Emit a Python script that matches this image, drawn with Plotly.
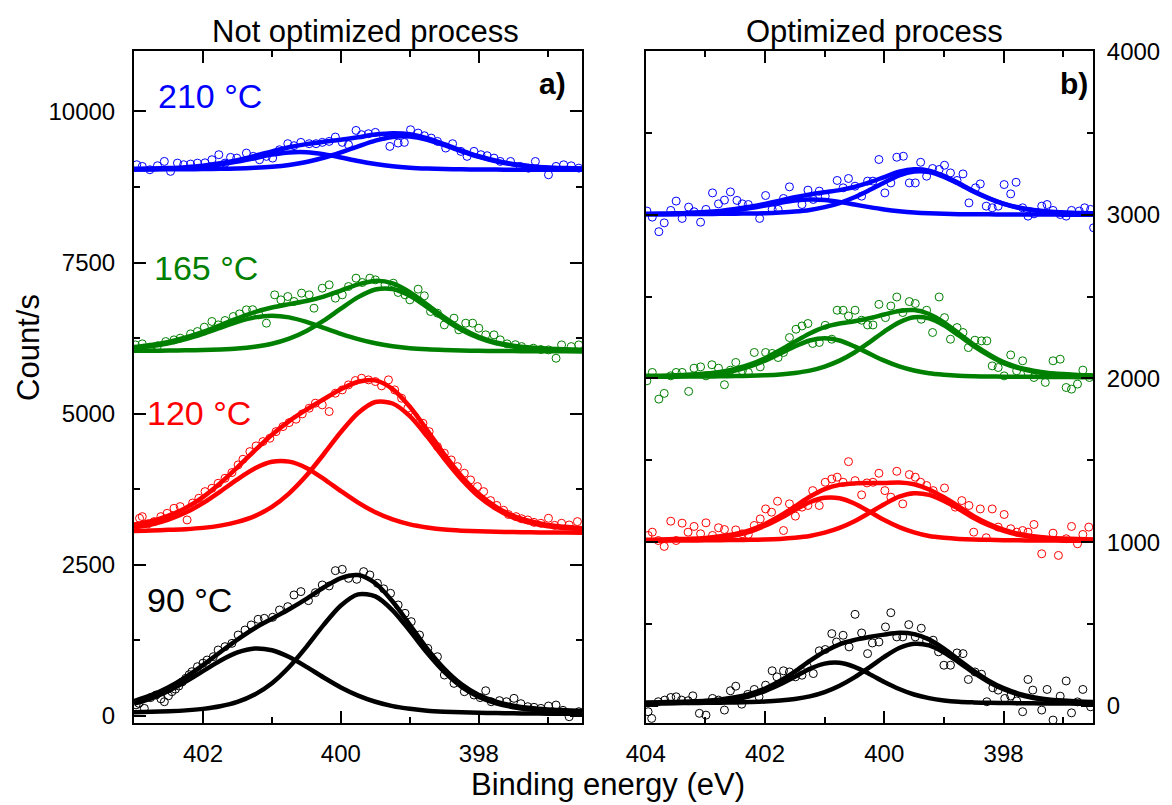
import plotly.graph_objects as go

# ---------------- fit grids (binding energy, eV) ----------------
E_FIT_LEFT = [403.0, 402.75, 402.5, 402.25, 402.0, 401.75, 401.5, 401.25, 401.0, 400.75, 400.5, 400.25, 400.0,
              399.75, 399.5, 399.25, 399.0, 398.75, 398.5, 398.25, 398.0, 397.75, 397.5, 397.25, 397.0, 396.75, 396.5]
E_FIT_RIGHT = [404.0, 403.75, 403.5, 403.25, 403.0, 402.75, 402.5, 402.25, 402.0, 401.75, 401.5, 401.25, 401.0,
               400.75, 400.5, 400.25, 400.0, 399.75, 399.5, 399.25, 399.0, 398.75, 398.5, 398.25, 398.0, 397.75,
               397.5, 397.25, 397.0, 396.75, 396.5]

# ---------------- panel a) Not optimized process: fit components ----------------
L90_BASE = 15
L90_C1 = [200, 289, 412, 565, 739, 910, 1047, 1113, 1083, 971, 809, 633, 469, 334, 232, 160, 115, 84, 67, 56, 48, 44, 40, 37, 35, 34, 32]
L90_C2 = [59, 66, 75, 89, 114, 156, 228, 350, 538, 806, 1140, 1504, 1825, 2009, 1975, 1745, 1404, 1041, 724, 478, 310, 206, 142, 105, 85, 73, 63]

L120_BASE = 3010
L120_C1 = [3114, 3163, 3244, 3362, 3519, 3710, 3913, 4092, 4202, 4205, 4101, 3921, 3718, 3526, 3367, 3248, 3166, 3116, 3081, 3063, 3052, 3045, 3040, 3036, 3033, 3031, 3029]
L120_C2 = [3059, 3065, 3076, 3088, 3109, 3146, 3208, 3304, 3457, 3681, 3974, 4327, 4695, 5010, 5192, 5167, 4957, 4623, 4253, 3911, 3628, 3423, 3278, 3192, 3135, 3106, 3085]

L165_BASE = 6020
L165_C1 = [6082, 6115, 6163, 6232, 6320, 6420, 6517, 6592, 6620, 6592, 6517, 6420, 6320, 6232, 6163, 6115, 6082, 6063, 6051, 6043, 6039, 6036, 6034, 6032, 6031, 6030, 6029]
L165_C2 = [6038, 6040, 6043, 6048, 6052, 6062, 6077, 6106, 6155, 6239, 6366, 6537, 6736, 6927, 7053, 7061, 6949, 6761, 6560, 6384, 6252, 6163, 6111, 6080, 6063, 6053, 6048]

L210_BASE = 9030
L210_C1 = [9041, 9045, 9052, 9064, 9086, 9122, 9169, 9227, 9285, 9322, 9326, 9294, 9239, 9180, 9130, 9092, 9068, 9054, 9046, 9042, 9039, 9038, 9036, 9036, 9035, 9034, 9034]
L210_C2 = [9039, 9041, 9042, 9044, 9046, 9050, 9056, 9067, 9085, 9115, 9163, 9233, 9322, 9422, 9517, 9578, 9585, 9532, 9442, 9341, 9249, 9175, 9123, 9089, 9068, 9058, 9051]

# ---------------- panel b) Optimized process: fit components ----------------
R90_BASE = 10
R90_C1 = [16, 16, 18, 20, 23, 30, 41, 60, 90, 130, 177, 226, 258, 263, 238, 195, 146, 103, 69, 47, 33, 25, 21, 18, 17, 16, 15, 14, 14, 13, 13]
R90_C2 = [15, 16, 16, 17, 18, 19, 21, 23, 26, 32, 42, 58, 84, 123, 174, 235, 299, 353, 379, 369, 326, 266, 203, 146, 101, 69, 48, 35, 28, 24, 21]

R120_BASE = 1005
R120_C1 = [1011, 1012, 1014, 1016, 1020, 1029, 1042, 1065, 1100, 1145, 1196, 1244, 1271, 1268, 1236, 1187, 1135, 1092, 1060, 1038, 1027, 1020, 1016, 1014, 1012, 1011, 1010, 1010, 1009, 1009, 1008]
R120_C2 = [1009, 1009, 1010, 1010, 1011, 1012, 1013, 1014, 1016, 1020, 1027, 1038, 1058, 1087, 1128, 1179, 1232, 1278, 1299, 1289, 1252, 1203, 1148, 1103, 1069, 1045, 1031, 1022, 1018, 1015, 1013]

R165_BASE = 2005
R165_C1 = [2011, 2012, 2014, 2017, 2023, 2032, 2049, 2074, 2109, 2152, 2196, 2232, 2246, 2232, 2196, 2152, 2109, 2074, 2049, 2032, 2023, 2017, 2014, 2012, 2011, 2010, 2010, 2009, 2009, 2008, 2008]
R165_C2 = [2010, 2010, 2011, 2012, 2012, 2013, 2015, 2017, 2020, 2025, 2034, 2048, 2073, 2109, 2159, 2221, 2287, 2343, 2374, 2367, 2325, 2263, 2198, 2142, 2094, 2063, 2043, 2030, 2023, 2019, 2016]

R210_BASE = 3000
R210_C1 = [3003, 3004, 3005, 3008, 3012, 3018, 3028, 3041, 3057, 3073, 3087, 3094, 3091, 3079, 3063, 3047, 3033, 3022, 3014, 3009, 3006, 3004, 3003, 3003, 3002, 3002, 3002, 3002, 3001, 3001, 3001]
R210_C2 = [3003, 3004, 3004, 3005, 3005, 3006, 3007, 3008, 3010, 3014, 3020, 3030, 3047, 3072, 3107, 3151, 3198, 3241, 3264, 3261, 3232, 3189, 3141, 3100, 3067, 3043, 3028, 3018, 3013, 3010, 3008]

# ---------------- measured points (panel a) ----------------
L90_E = [402.97, 402.93, 402.85, 402.76, 402.68, 402.61, 402.56, 402.50, 402.45, 402.40, 402.35, 402.30, 402.25, 402.20,
         402.16, 402.08, 402.00, 401.94, 401.85, 401.78, 401.68, 401.58, 401.49, 401.39, 401.30, 401.20, 401.11, 400.99,
         400.89, 400.77, 400.68, 400.58, 400.47, 400.37, 400.27, 400.17, 400.08, 399.98, 399.89, 399.77, 399.67, 399.58,
         399.47, 399.38, 399.28, 399.17, 399.07, 398.98, 398.86, 398.74, 398.60, 398.50, 398.36, 398.21, 398.07, 397.98,
         397.90, 397.82, 397.70, 397.60, 397.49, 397.39, 397.29, 397.20, 397.10, 396.99, 396.88, 396.78, 396.69, 396.55]
L90_V = [180, 205, 122, 300, 343, 280, 232, 330, 398, 440, 492, 560, 619, 680,
         729, 812, 870, 922, 977, 1088, 1143, 1198, 1336, 1419, 1502, 1596, 1612, 1629,
         1750, 1805, 1999, 2054, 1905, 2037, 2164, 2148, 2401, 2423, 2274, 2258, 2385, 2330,
         2192, 2100, 2026, 1833, 1695, 1557, 1336, 1115, 977, 674, 536, 398, 343, 300,
         414, 232, 250, 232, 288, 200, 150, 140, 122, 161, 177, 90, -16, 67]

L120_E = [402.92, 402.88, 402.80, 402.71, 402.61, 402.52, 402.42, 402.33, 402.23, 402.15, 402.06, 401.97, 401.87, 401.78,
          401.68, 401.58, 401.49, 401.42, 401.32, 401.23, 401.13, 401.03, 400.94, 400.84, 400.75, 400.65, 400.56, 400.46,
          400.37, 400.27, 400.17, 400.08, 399.98, 399.89, 399.79, 399.70, 399.60, 399.50, 399.41, 399.31, 399.22, 399.12,
          399.03, 398.93, 398.81, 398.72, 398.60, 398.50, 398.40, 398.31, 398.21, 398.12, 398.02, 397.93, 397.83, 397.74,
          397.64, 397.57, 397.46, 397.38, 397.29, 397.20, 397.10, 396.99, 396.90, 396.80, 396.69, 396.57]
L120_V = [3268, 3295, 3174, 3212, 3295, 3350, 3433, 3461, 3240, 3520, 3599, 3709, 3764, 3847,
          3930, 4024, 4151, 4244, 4371, 4465, 4537, 4592, 4702, 4785, 4851, 4907, 4995, 5089,
          5172, 5144, 5034, 5337, 5392, 5475, 5547, 5585, 5558, 5530, 5459, 5558, 5392, 5254,
          5089, 4951, 4840, 4702, 4454, 4344, 4233, 4123, 4013, 3902, 3792, 3709, 3560, 3480,
          3400, 3330, 3295, 3260, 3240, 3200, 3185, 3268, 3150, 3185, 3157, 3213]

L165_E = [402.98, 402.88, 402.77, 402.66, 402.54, 402.42, 402.33, 402.18, 402.08, 401.98, 401.87, 401.78, 401.68, 401.56,
          401.47, 401.37, 401.28, 401.19, 401.08, 400.96, 400.87, 400.77, 400.68, 400.57, 400.46, 400.39, 400.27, 400.17,
          400.08, 399.98, 399.89, 399.78, 399.69, 399.58, 399.50, 399.36, 399.24, 399.17, 399.07, 399.00, 398.88, 398.79,
          398.70, 398.60, 398.50, 398.36, 398.29, 398.19, 398.09, 398.00, 397.90, 397.78, 397.69, 397.59, 397.47, 397.38,
          397.21, 397.10, 396.99, 396.88, 396.80, 396.66, 396.55]
L165_V = [6137, 6154, 6100, 6121, 6192, 6220, 6248, 6319, 6358, 6430, 6524, 6468, 6540, 6606,
          6650, 6717, 6720, 6634, 6496, 6965, 6882, 6937, 6855, 6993, 6965, 6744, 7075, 7131,
          6910, 6965, 7103, 7241, 7169, 7241, 7213, 7131, 7158, 7004, 6965, 6882, 7059, 6949,
          6689, 6662, 6468, 6579, 6386, 6496, 6496, 6413, 6303, 6303, 6220, 6154, 6140, 6109,
          6082, 6060, 6054, 5916, 6137, 6109, 6137]

L210_E = [402.96, 402.88, 402.77, 402.66, 402.56, 402.47, 402.37, 402.28, 402.18, 402.08, 401.97, 401.87, 401.77, 401.68,
          401.60, 401.51, 401.37, 401.27, 401.18, 401.08, 400.99, 400.89, 400.77, 400.68, 400.58, 400.46, 400.36, 400.27,
          400.17, 400.08, 399.98, 399.89, 399.78, 399.70, 399.60, 399.50, 399.38, 399.29, 399.17, 399.08, 398.99, 398.88,
          398.79, 398.69, 398.60, 398.48, 398.38, 398.26, 398.17, 398.07, 397.97, 397.88, 397.78, 397.69, 397.54, 397.40,
          397.28, 397.18, 396.99, 396.88, 396.77, 396.66, 396.55]
L210_V = [9118, 9090, 9035, 9101, 9173, 9008, 9145, 9118, 9129, 9145, 9150, 9201, 9284, 9145,
          9240, 9228, 9311, 9256, 9201, 9256, 9228, 9366, 9466, 9433, 9488, 9466, 9466, 9488,
          9504, 9576, 9488, 9449, 9686, 9615, 9631, 9653, 9587, 9421, 9477, 9488, 9697, 9642,
          9598, 9559, 9504, 9394, 9466, 9339, 9256, 9339, 9284, 9267, 9228, 9173, 9172, 9090,
          9060, 9172, 8952, 9090, 9117, 9100, 9062]

# ---------------- measured points (panel b) ----------------
R90_E = [403.96, 403.90, 403.79, 403.68, 403.58, 403.49, 403.40, 403.29, 403.21, 403.10, 402.99, 402.88, 402.78, 402.68,
         402.58, 402.49, 402.39, 402.29, 402.18, 402.10, 401.99, 401.88, 401.80, 401.69, 401.59, 401.49, 401.38, 401.29,
         401.19, 401.09, 400.99, 400.88, 400.80, 400.69, 400.59, 400.49, 400.38, 400.28, 400.20, 400.09, 399.98, 399.89,
         399.79, 399.69, 399.59, 399.48, 399.38, 399.29, 399.18, 399.09, 399.00, 398.89, 398.78, 398.68, 398.59, 398.48,
         398.37, 398.28, 398.18, 398.09, 397.98, 397.88, 397.78, 397.68, 397.59, 397.51, 397.36, 397.27, 397.17, 397.05,
         396.95, 396.86, 396.76, 396.67, 396.54]
R90_V = [-36, -77, 25, 35, 51, 55, 35, 31, 61, -46, -57, 45, 35, -26,
         92, 120, 10, 70, 100, 55, 126, 214, 177, 214, 207, 177, 187, 240,
         197, 336, 344, 441, 390, 431, 360, 559, 445, 319, 384, 390, 482, 569,
         421, 421, 496, 421, 474, 397, 401, 330, 248, 248, 323, 319, 161, 207,
         193, 25, 110, 96, 45, 60, 30, -36, 161, 96, -26, 100, -87, 59,
         152, -43, 24, 100, -6]

R120_E = [403.96, 403.89, 403.79, 403.69, 403.58, 403.49, 403.39, 403.29, 403.19, 403.08, 402.99, 402.88, 402.78, 402.68,
          402.49, 402.38, 402.28, 402.18, 402.08, 401.99, 401.89, 401.79, 401.69, 401.59, 401.49, 401.38, 401.28, 401.20,
          401.09, 400.99, 400.88, 400.79, 400.69, 400.60, 400.49, 400.38, 400.29, 400.19, 400.09, 399.99, 399.89, 399.79,
          399.69, 399.58, 399.48, 399.39, 399.29, 399.18, 398.99, 398.81, 398.70, 398.58, 398.50, 398.39, 398.29, 398.19,
          398.09, 397.99, 397.88, 397.78, 397.68, 397.59, 397.49, 397.36, 397.17, 397.08, 396.95, 396.86, 396.76, 396.67,
          396.57]
R120_V = [1041, 1061, 1010, 974, 1128, 1010, 1116, 1061, 1096, 1051, 1118, 1041, 1088, 1077,
          1075, 1051, 1047, 1102, 1142, 1203, 1183, 1250, 1071, 1234, 1159, 1214, 1224, 1315,
          1224, 1366, 1386, 1397, 1366, 1492, 1376, 1289, 1362, 1366, 1421, 1315, 1275, 1433,
          1234, 1413, 1397, 1366, 1346, 1315, 1331, 1214, 1254, 1224, 1061, 1203, 1027, 1203,
          1092, 1169, 1082, 1061, 1071, 1061, 1108, 929, 1055, 919, 1021, 1096, 990, 1047,
          1092]

R165_E = [403.98, 403.89, 403.78, 403.69, 403.58, 403.49, 403.39, 403.28, 403.19, 403.08, 402.99, 402.89, 402.78, 402.68,
          402.58, 402.49, 402.38, 402.28, 402.18, 402.08, 401.99, 401.88, 401.78, 401.69, 401.59, 401.48, 401.38, 401.28,
          401.20, 401.09, 400.99, 400.88, 400.79, 400.69, 400.60, 400.49, 400.38, 400.28, 400.19, 400.09, 399.98, 399.89,
          399.79, 399.69, 399.58, 399.48, 399.38, 399.29, 399.19, 399.08, 398.99, 398.89, 398.78, 398.68, 398.59, 398.48,
          398.37, 398.28, 398.19, 398.09, 397.99, 397.88, 397.78, 397.68, 397.59, 397.49, 397.30, 397.17, 397.05, 396.95,
          396.86, 396.76, 396.67, 396.56]
R165_V = [1986, 2037, 1874, 1909, 2016, 2037, 2037, 1921, 2063, 2071, 2016, 2084, 2063, 1962,
          2051, 2098, 2047, 2037, 2159, 2071, 2159, 2153, 2128, 2159, 2250, 2301, 2321, 2336,
          2214, 2220, 2325, 2240, 2417, 2417, 2382, 2417, 2356, 2327, 2327, 2453, 2372, 2443,
          2498, 2403, 2470, 2458, 2362, 2417, 2281, 2498, 2372, 2240, 2311, 2281, 2189, 2234,
          2230, 2230, 2077, 2067, 2016, 2144, 2047, 2108, 2037, 2006, 1976, 2108, 2118, 1945,
          1935, 1966, 2051, 2006]

R210_E = [403.98, 403.89, 403.78, 403.69, 403.58, 403.49, 403.39, 403.28, 403.19, 403.08, 402.99, 402.88, 402.78, 402.68,
          402.58, 402.47, 402.38, 402.28, 402.09, 401.99, 401.88, 401.78, 401.69, 401.59, 401.38, 401.28, 401.19, 401.09,
          400.99, 400.79, 400.69, 400.60, 400.49, 400.38, 400.28, 400.19, 400.09, 399.99, 399.89, 399.79, 399.68, 399.58,
          399.48, 399.39, 399.29, 399.19, 399.08, 398.99, 398.89, 398.78, 398.68, 398.58, 398.47, 398.39, 398.29, 398.19,
          398.09, 397.99, 397.88, 397.79, 397.68, 397.59, 397.49, 397.36, 397.27, 397.17, 397.05, 396.95, 396.86, 396.73,
          396.64, 396.54, 396.49]
R210_V = [3023, 2986, 2897, 2951, 3027, 3084, 2978, 3047, 3019, 2955, 3033, 3134, 3067, 3090,
          3140, 3088, 3067, 3063, 2978, 3118, 3033, 3033, 3100, 3171, 3063, 3151, 3094, 3145,
          3114, 3210, 3165, 3222, 3175, 3114, 3206, 3206, 3338, 3134, 3195, 3352, 3358, 3195,
          3195, 3321, 3236, 3283, 3277, 3303, 3256, 3210, 3250, 3073, 3165, 3189, 3053, 3043,
          3053, 3185, 3128, 3199, 3043, 2992, 3006, 3053, 3063, 3027, 3002, 2992, 3027, 3023,
          3043, 3033, 2921]

BLACK = "#000000"
RED = "#ff0000"
GREEN = "#008000"
BLUE = "#0000ff"
FONT = "Arial, 'Liberation Sans', sans-serif"

fig = go.Figure()


def add_series(e_pts, v_pts, e_fit, c1, c2, base, color, xa, ya):
    fig.add_trace(go.Scatter(
        x=e_pts, y=v_pts, mode="markers", xaxis=xa, yaxis=ya, showlegend=False,
        marker=dict(symbol="circle-open", size=8, color=color, line=dict(width=1, color=color))))
    envelope = [a + b - base for a, b in zip(c1, c2)]
    for ys in (c1, c2, envelope):
        fig.add_trace(go.Scatter(
            x=e_fit, y=ys, mode="lines", xaxis=xa, yaxis=ya, showlegend=False,
            line=dict(color=color, width=4.5, shape="spline", smoothing=0.8)))


add_series(L90_E, L90_V, E_FIT_LEFT, L90_C1, L90_C2, L90_BASE, BLACK, "x", "y")
add_series(L120_E, L120_V, E_FIT_LEFT, L120_C1, L120_C2, L120_BASE, RED, "x", "y")
add_series(L165_E, L165_V, E_FIT_LEFT, L165_C1, L165_C2, L165_BASE, GREEN, "x", "y")
add_series(L210_E, L210_V, E_FIT_LEFT, L210_C1, L210_C2, L210_BASE, BLUE, "x", "y")

add_series(R90_E, R90_V, E_FIT_RIGHT, R90_C1, R90_C2, R90_BASE, BLACK, "x2", "y2")
add_series(R120_E, R120_V, E_FIT_RIGHT, R120_C1, R120_C2, R120_BASE, RED, "x2", "y2")
add_series(R165_E, R165_V, E_FIT_RIGHT, R165_C1, R165_C2, R165_BASE, GREEN, "x2", "y2")
add_series(R210_E, R210_V, E_FIT_RIGHT, R210_C1, R210_C2, R210_BASE, BLUE, "x2", "y2")

W, H = 1172, 805
ML, MR, MT, MB = 134, 71, 51, 82
PW, PH = W - ML - MR, H - MT - MB


def px(x):
    return (x - ML) / PW


def py(y):
    return (H - MB - y) / PH


axis_common = dict(
    showline=True, linewidth=2, linecolor="black", mirror="allticks",
    ticks="inside", ticklen=12, tickwidth=2, tickcolor="black",
    showgrid=False, zeroline=False,
    tickfont=dict(family=FONT, size=24, color="black"),
)
minor_common = dict(ticks="inside", ticklen=6, tickwidth=2, tickcolor="black", showgrid=False)

fig.update_layout(
    width=W, height=H,
    margin=dict(l=ML, r=MR, t=MT, b=MB),
    paper_bgcolor="white", plot_bgcolor="white",
    showlegend=False,
    font=dict(family=FONT, color="black"),
    xaxis=dict(domain=[0, px(586)], range=[403, 396.5], anchor="y", dtick=2, tick0=400, tickformat="d",
               minor=dict(dtick=1, tick0=400, **minor_common), ticklabelstandoff=8, **axis_common),
    yaxis=dict(domain=[0, 1], range=[-120, 11000], anchor="x", dtick=2500, tick0=0, tickformat="d",
               minor=dict(dtick=1250, tick0=0, **minor_common), ticklabelstandoff=12, **axis_common),
    xaxis2=dict(domain=[px(650), 1], range=[404, 396.5], anchor="y2", dtick=2, tick0=400, tickformat="d",
                minor=dict(dtick=1, tick0=400, **minor_common), ticklabelstandoff=8, **axis_common),
    yaxis2=dict(domain=[0, 1], range=[-105, 4001], anchor="x2", side="right", dtick=1000, tick0=0, tickformat="d",
                minor=dict(dtick=500, tick0=0, **minor_common), ticklabelstandoff=7, **axis_common),
)

ann = [
    dict(text="Not optimized process", x=px(367), y=py(32), size=31, xanchor="center", color="black"),
    dict(text="Optimized process", x=px(881), y=py(32), size=31, xanchor="center", color="black"),
    dict(text="210 °C", x=px(156), y=py(96), size=34, xanchor="left", color=BLUE),
    dict(text="165 °C", x=px(152), y=py(268), size=34, xanchor="left", color=GREEN),
    dict(text="120 °C", x=px(145), y=py(413), size=34, xanchor="left", color=RED),
    dict(text="90 °C", x=px(145), y=py(600), size=34, xanchor="left", color=BLACK),
    dict(text="<b>a)</b>", x=px(556), y=py(83), size=30, xanchor="center", color="black"),
    dict(text="<b>b)</b>", x=px(1082), y=py(83), size=30, xanchor="center", color="black"),
]
for a in ann:
    fig.add_annotation(text=a["text"], x=a["x"], y=a["y"], xref="paper", yref="paper",
                       xanchor=a["xanchor"], yanchor="middle", showarrow=False,
                       font=dict(family=FONT, size=a["size"], color=a["color"]))

fig.add_annotation(text="Count/s", x=px(27), y=py(347), xref="paper", yref="paper", textangle=-90,
                   xanchor="center", yanchor="middle", showarrow=False,
                   font=dict(family=FONT, size=31, color="black"))
fig.add_annotation(text="Binding energy (eV)", x=px(612), y=py(784), xref="paper", yref="paper",
                   xanchor="center", yanchor="middle", showarrow=False,
                   font=dict(family=FONT, size=31, color="black"))

fig.write_html("out.html", config={"displayModeBar": False},
               post_script="document.body.style.margin='0';")
